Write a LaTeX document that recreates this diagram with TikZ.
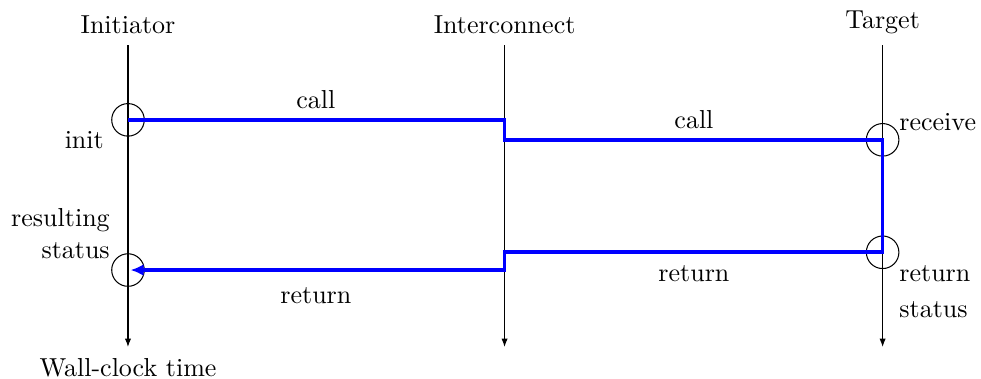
\documentclass[tikz,border=0pt]{standalone}
\usetikzlibrary{arrows.meta}
\tikzstyle{lifeline} = [draw, thin, -{Latex[length=3.2pt,width=2.4pt]}]
\tikzstyle{event} = [draw, circle, minimum size=0.44cm, inner sep=0pt]
\tikzstyle{message} = [draw=blue, line width=1.4pt, -{Latex[length=5pt,width=4.5pt]}]
\tikzstyle{header} = [inner sep=0pt]

\begin{document}
\begin{tikzpicture}
\useasboundingbox (0,0) rectangle (13.26,-5.11);
% Draw the parties and their lifelines
\node[header] (initiator) at (1.73,-0.34) {Initiator};
\node[header] (interconnect) at (6.82,-0.34) {Interconnect};
\node[header] (target) at (11.93,-0.30) {Target};
\coordinate (itop) at (1.73,-0.61);
\coordinate (ctop) at (6.82,-0.61);
\coordinate (ttop) at (11.93,-0.61);
\coordinate (ibot) at (1.73,-4.69);
\coordinate (cbot) at (6.82,-4.69);
\coordinate (tbot) at (11.93,-4.69);
\path [lifeline] (itop) -- (ibot);
\path [lifeline] (ctop) -- (cbot);
\path [lifeline] (ttop) -- (tbot);
\node[inner sep=0pt] (clock) at (1.73,-4.97) {Wall-clock time};

% Draw events
\node[event] (init) at (1.73,-1.62) {};
\node[event] (receive) at (11.93,-1.89) {};
\node[event] (retstat) at (11.93,-3.41) {};
\node[event] (result) at (1.73,-3.65) {};
\node[anchor=east, inner sep=0pt] (initlbl) at (1.41,-1.89) {init};
\node[anchor=west, inner sep=0pt] (recvlbl) at (12.15,-1.65) {receive};
\node[anchor=north west, align=left, inner sep=0pt] (retlbl) at (12.15,-3.58) {return\\[2pt]status};
\node[anchor=south east, align=right, inner sep=0pt] (reslbl) at (1.49,-3.5) {resulting\\status};

% Draw the call and its return
\path [message] (init.center) -- (init.center -| ctop) |- (receive.center)
  -- (retstat.center) -- (retstat.center -| ctop) |- ([xshift=1pt]result.center);
\node (call1) at (4.27,-1.35) {call};
\node (call2) at (9.38,-1.62) {call};
\node (ret1) at (9.38,-3.70) {return};
\node (ret2) at (4.27,-3.99) {return};
\end{tikzpicture}
\end{document}
